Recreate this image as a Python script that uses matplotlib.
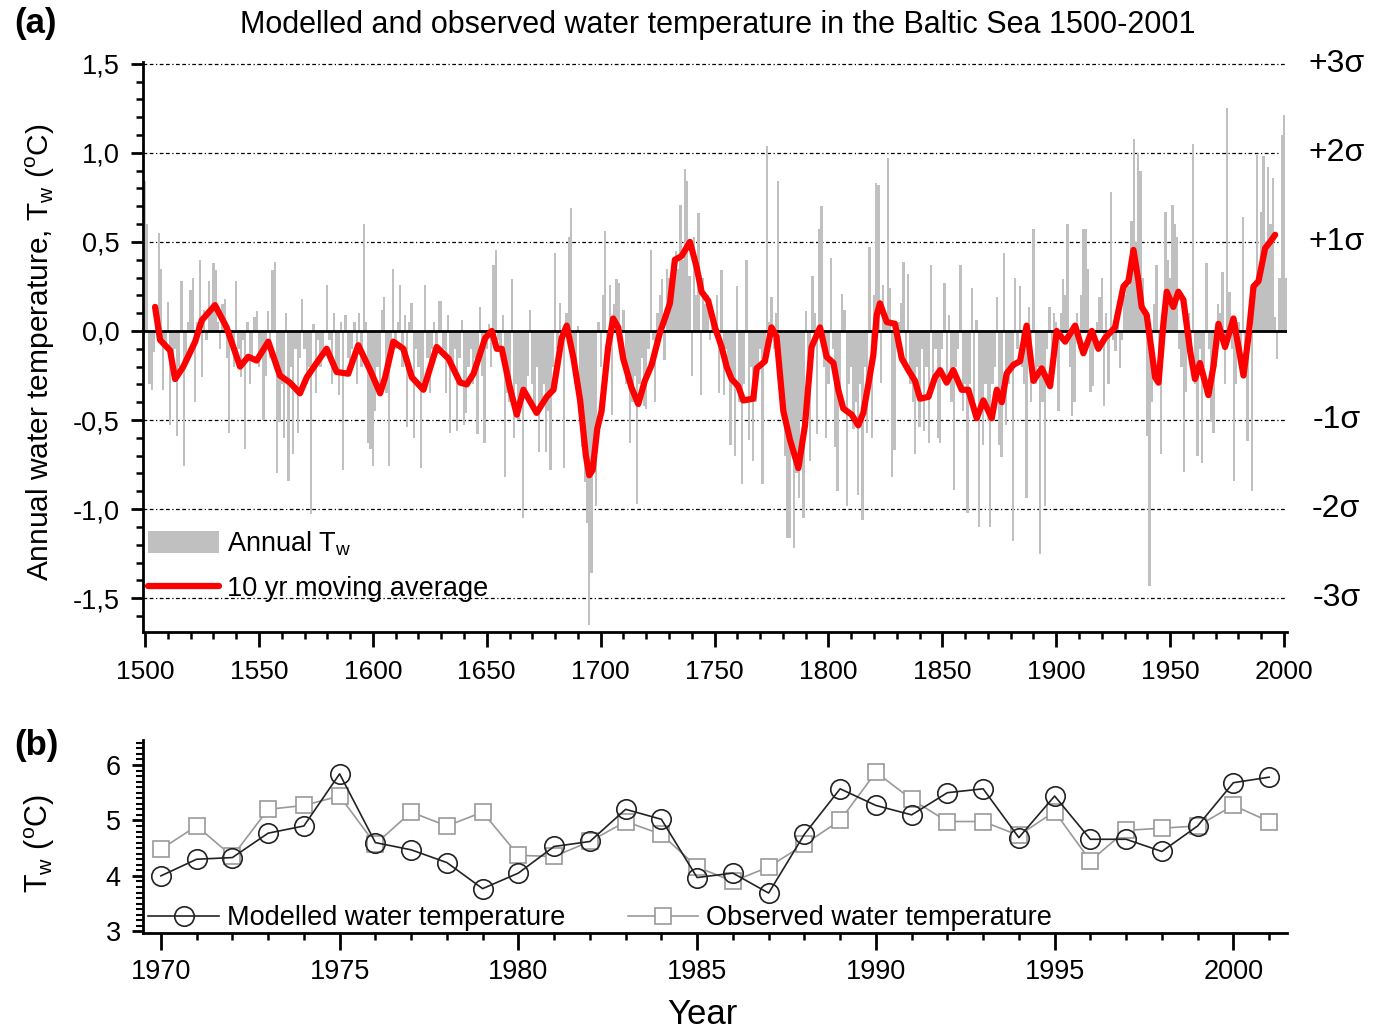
import numpy as np
import matplotlib
matplotlib.use("Agg")
from matplotlib import pyplot as plt
from matplotlib.patches import Patch
from matplotlib.lines import Line2D
from matplotlib.ticker import MultipleLocator, FuncFormatter

plt.rcParams['font.family'] = ['Liberation Sans', 'DejaVu Sans']
plt.rcParams['mathtext.fontset'] = 'custom'
plt.rcParams['mathtext.rm'] = 'Liberation Sans'

# annual water temperature anomaly 1500-2001, one row per decade
annual_tw = [
    0.84, 0.60, -0.30, -0.33, -0.12, 0.10, 0.55, 0.35, -0.33, -0.08,   # 1500
    0.16, -0.53, -0.25, -0.10, -0.59, -0.20, 0.28, -0.76, -0.15, 0.05,  # 1510
    0.23, 0.30, -0.40, 0.05, 0.40, -0.26, 0.12, -0.05, 0.28, 0.10,      # 1520
    0.38, 0.34, 0.05, -0.10, 0.15, 0.18, -0.15, -0.57, -0.05, -0.20,    # 1530
    0.28, -0.10, -0.26, -0.05, -0.66, 0.05, -0.30, -0.15, 0.08, 0.11,   # 1540
    -0.20, -0.10, -0.50, -0.25, 0.11, -0.15, 0.34, 0.39, -0.80, -0.51,  # 1550
    -0.30, -0.60, 0.10, -0.84, -0.20, -0.69, -0.10, -0.57, -0.15, 0.18, # 1560
    -0.10, -0.30, -0.20, -1.03, 0.04, -0.35, -0.05, -0.20, -0.10, 0.00, # 1570
    0.26, -0.05, -0.30, 0.10, -0.20, -0.36, 0.05, -0.78, 0.09, -0.15,   # 1580
    -0.25, -0.10, 0.05, -0.30, 0.10, -0.20, 0.60, 0.05, -0.63, -0.66,   # 1590
    -0.76, -0.45, -0.20, -0.30, 0.12, 0.19, -0.35, -0.76, -0.15, 0.35,  # 1600
    -0.10, 0.05, 0.26, -0.20, 0.09, -0.54, 0.05, 0.155, -0.60, -0.10,   # 1610
    -0.20, -0.77, -0.30, 0.26, -0.15, -0.35, -0.10, 0.05, -0.10, 0.17,  # 1620
    0.17, -0.10, -0.35, 0.09, -0.57, -0.20, -0.10, -0.56, -0.15, 0.06,  # 1630
    -0.53, -0.46, -0.20, -0.10, -0.30, -0.15, -0.58, 0.135, -0.25, -0.63,  # 1640
    -0.10, 0.04, -0.20, 0.37, 0.455, -0.05, -0.10, 0.09, -0.82, -0.35,  # 1650
    -0.40, 0.29, -0.60, -0.30, -0.50, -0.40, -1.05, -0.35, -0.25, 0.12, # 1660
    -0.30, -0.45, -0.20, -0.68, -0.40, -0.30, -0.68, -0.45, -0.78, -0.20,  # 1670
    0.435, -0.10, 0.155, -0.05, -0.77, 0.10, 0.53, 0.69, -0.10, -0.30,  # 1680
    0.03, -0.40, -0.65, -0.85, -1.08, -1.65, -1.36, -0.75, -0.98, 0.05, # 1690
    -0.20, 0.20, 0.56, -0.10, 0.26, -0.47, 0.15, 0.29, 0.27, -0.10,     # 1700
    0.12, -0.30, -0.20, -0.63, -0.40, -0.25, -0.97, -0.30, -0.15, -0.42,  # 1710
    -0.44, -0.10, 0.455, -0.05, -0.40, 0.10, 0.20, 0.29, -0.165, 0.35,  # 1720
    0.30, 0.20, 0.41, 0.45, 0.35, 0.71, 0.40, 0.91, 0.84, 0.31,         # 1730
    -0.25, 0.53, 0.20, 0.66, -0.36, 0.30, 0.15, 0.20, -0.05, 0.10,      # 1740
    0.06, 0.20, -0.35, 0.34, -0.36, -0.10, -0.20, -0.64, -0.30, -0.70,  # 1750
    0.25, -0.40, -0.86, -0.30, 0.40, -0.61, -0.20, -0.73, -0.40, -0.20, # 1760
    -0.10, -0.86, -0.10, 1.04, 0.05, 0.19, -0.10, 0.10, 0.84, -0.30,    # 1770
    -0.40, -0.70, -1.16, -1.16, -0.60, -1.22, -0.80, -0.94, -0.50, -1.05,  # 1780
    0.11, -0.30, -0.73, 0.31, 0.10, -0.58, 0.57, 0.70, -0.20, -0.60,    # 1790
    -0.30, 0.41, -0.10, -0.65, -0.90, -0.40, 0.21, 0.12, -0.98, -0.30,  # 1800
    -0.20, -0.55, -0.40, -0.92, -0.30, -1.06, -0.20, -0.57, 0.47, -0.60,  # 1810
    0.20, 0.83, 0.82, -0.29, 0.26, 0.10, 0.97, 0.24, -0.82, -0.67,      # 1820
    -0.10, 0.05, 0.155, 0.39, -0.20, 0.32, -0.30, -0.40, -0.69, -0.20,  # 1830
    -0.54, -0.10, -0.56, -0.20, -0.63, 0.37, -0.30, -0.10, -0.60, -0.63,  # 1840
    -0.10, 0.27, -0.30, 0.09, -0.40, -0.89, -0.20, -0.10, 0.37, -0.45,  # 1850
    -0.30, -1.02, -0.30, 0.24, -0.40, 0.06, -1.10, -0.40, -0.64, -0.30, # 1860
    -0.50, -1.10, -0.30, -0.20, 0.19, -0.64, -0.71, 0.435, -0.53, -0.30,  # 1870
    -0.20, -1.18, 0.30, -0.10, 0.25, -0.20, -0.30, -0.94, 0.135, -0.40, # 1880
    0.57, -0.30, -0.20, -1.25, -0.40, -0.98, -0.10, 0.135, -0.20, 0.10, # 1890
    0.05, -0.45, 0.10, 0.29, 0.20, 0.60, -0.20, -0.48, -0.40, 0.10,     # 1900
    -0.10, 0.20, 0.57, 0.57, 0.35, -0.34, -0.31, -0.10, 0.05, 0.19,     # 1910
    0.30, -0.42, 0.10, -0.30, 0.78, -0.05, -0.11, 0.10, -0.21, -0.05,   # 1920
    0.20, 0.30, 0.25, 0.62, 1.08, 0.50, 1.00, 0.90, 0.30, 0.10,         # 1930
    -0.59, -1.43, -0.40, 0.15, 0.37, -0.20, -0.69, 0.10, 0.67, 0.40,    # 1940
    0.30, 0.71, 0.60, 0.53, -0.10, -0.20, -0.79, -0.34, 0.10, -0.20,    # 1950
    1.05, -0.30, -0.70, -0.10, -0.74, -0.20, 0.38, -0.10, -0.51, -0.57, # 1960
    -0.20, 0.15, 0.10, 0.33, -0.30, 1.25, 0.22, -0.10, -0.84, -0.30,    # 1970
    0.05, -0.20, 0.64, -0.10, -0.62, 0.10, -0.90, 0.20, 0.99, 0.30,     # 1980
    0.67, 0.98, 0.50, 0.92, 0.60, 0.86, 0.08, -0.155, 0.30, 1.10,       # 1990
    1.21, 0.30,                                                         # 2000
]
years = np.arange(1500, 1500 + len(annual_tw))

# 10 yr moving average
ma_years = [1504.4, 1506.6, 1511.0, 1513.2, 1516.8, 1522.0, 1524.9, 1530.7, 1535.8, 1541.7,
            1545.3, 1549.0, 1554.1, 1559.2, 1563.6, 1568.0, 1571.0, 1575.3, 1579.7, 1584.1,
            1589.2, 1593.6, 1598.8, 1603.2, 1605.4, 1609.0, 1613.4, 1617.1, 1622.2, 1628.0,
            1633.2, 1638.3, 1641.2, 1644.2, 1649.3, 1652.2, 1654.4, 1656.6, 1660.2, 1663.2,
            1666.1, 1671.9, 1676.3, 1679.3, 1682.9, 1685.1, 1688.1, 1691.0, 1693.5, 1695.0,
            1696.5, 1698.5, 1700.4, 1703.3, 1705.5, 1707.7, 1709.9, 1713.6, 1716.5, 1719.4,
            1722.4, 1726.0, 1728.2, 1730.4, 1732.6, 1735.5, 1739.2, 1742.1, 1744.3, 1747.2,
            1750.2, 1753.1, 1755.3, 1757.5, 1760.4, 1762.6, 1767.0, 1768.5, 1772.1, 1775.0,
            1777.2, 1780.2, 1783.1, 1786.8, 1789.7, 1792.6, 1796.3, 1799.2, 1802.2, 1804.3,
            1806.5, 1810.2, 1813.1, 1815.3, 1817.5, 1819.7, 1821.2, 1822.6, 1825.6, 1829.2,
            1832.2, 1835.1, 1838.0, 1840.2, 1843.9, 1846.8, 1849.0, 1851.9, 1854.8, 1858.5,
            1861.4, 1865.1, 1868.0, 1871.7, 1873.9, 1876.1, 1878.2, 1881.2, 1884.1, 1887.0,
            1890.0, 1893.6, 1897.3, 1900.2, 1903.9, 1908.3, 1911.9, 1915.6, 1918.5, 1921.4,
            1925.8, 1929.5, 1931.7, 1933.9, 1936.1, 1937.5, 1939.7, 1941.9, 1943.4, 1944.9,
            1947.1, 1948.5, 1951.4, 1953.6, 1955.8, 1958.8, 1960.9, 1963.1, 1966.8, 1969.0,
            1971.2, 1974.1, 1977.8, 1980.0, 1982.2, 1984.4, 1986.6, 1988.8, 1991.7, 1993.9,
            1996.1]
ma_values = [0.135, -0.05, -0.11, -0.27, -0.20, -0.06, 0.06, 0.145, 0.02, -0.20,
             -0.145, -0.166, -0.06, -0.25, -0.29, -0.35, -0.26, -0.18, -0.10, -0.23,
             -0.24, -0.08, -0.22, -0.35, -0.26, -0.06, -0.10, -0.26, -0.33, -0.09,
             -0.155, -0.29, -0.30, -0.24, -0.04, 0.00, -0.10, -0.10, -0.32, -0.47,
             -0.33, -0.46, -0.37, -0.33, -0.04, 0.03, -0.155, -0.39, -0.70, -0.81,
             -0.78, -0.55, -0.45, -0.09, 0.07, 0.02, -0.155, -0.32, -0.41, -0.28,
             -0.19, -0.01, 0.07, 0.155, 0.40, 0.42, 0.50, 0.36, 0.22, 0.17,
             0.02, -0.09, -0.20, -0.27, -0.31, -0.39, -0.38, -0.21, -0.17, 0.02,
             -0.03, -0.45, -0.61, -0.77, -0.53, -0.09, 0.02, -0.145, -0.18, -0.33,
             -0.435, -0.47, -0.53, -0.46, -0.30, -0.135, 0.09, 0.155, 0.05, 0.04,
             -0.155, -0.22, -0.28, -0.38, -0.37, -0.26, -0.22, -0.29, -0.22, -0.33,
             -0.33, -0.49, -0.39, -0.49, -0.33, -0.40, -0.24, -0.19, -0.17, 0.03,
             -0.28, -0.21, -0.31, 0.00, -0.06, 0.03, -0.125, 0.00, -0.10, -0.04,
             0.02, 0.25, 0.28, 0.455, 0.28, 0.135, 0.09, -0.115, -0.26, -0.29,
             0.05, 0.22, 0.135, 0.22, 0.175, -0.115, -0.27, -0.18, -0.36, -0.20,
             0.04, -0.09, 0.07, -0.09, -0.25, -0.03, 0.25, 0.28, 0.465, 0.50,
             0.54]

sigma_levels = [1.5, 1.0, 0.5, -0.5, -1.0, -1.5]
sigma_labels = ['+3σ', '+2σ', '+1σ', '-1σ', '-2σ', '-3σ']

# 1970-2001 comparison
cmp_years = np.arange(1970, 2002)
modelled = [4.00, 4.30, 4.33, 4.77, 4.90, 5.84, 4.60, 4.47, 4.24, 3.77,
            4.05, 4.53, 4.62, 5.20, 5.02, 3.97, 4.05, 3.69, 4.75, 5.57,
            5.27, 5.10, 5.50, 5.57, 4.69, 5.44, 4.66, 4.66, 4.44, 4.90,
            5.68, 5.78]
observed = [4.48, 4.90, 4.35, 5.20, 5.27, 5.44, 4.57, 5.15, 4.90, 5.15,
            4.37, 4.35, 4.62, 4.98, 4.75, 4.16, 3.90, 4.16, 4.57, 5.00,
            5.87, 5.38, 4.98, 4.98, 4.73, 5.16, 4.27, 4.82, 4.86, 4.90,
            5.27, 4.98]

W, H = 1382, 1031
fig = plt.figure(figsize=(W / 100, H / 100), dpi=100)

comma = FuncFormatter(lambda v, p: f"{v:.1f}".replace('.', ','))


def style_axes(ax):
    for s in ['top', 'right']:
        ax.spines[s].set_visible(False)
    for s in ['left', 'bottom']:
        ax.spines[s].set_linewidth(2.0)
    ax.tick_params(which='major', direction='out', length=9, width=2.0, labelsize=19)
    ax.tick_params(which='minor', direction='out', length=5, width=1.8)


# ---- (a) ----
ax = fig.add_axes([143 / W, 1 - 632 / H, 1144 / W, 570 / H])
for lvl in sigma_levels:
    ax.axhline(lvl, color='black', lw=0.9, ls=(0, (3, 2, 3, 2, 1, 2)), zorder=1)
ax.bar(years, annual_tw, width=1.0, color='#c0c0c0', linewidth=0, zorder=2)
ax.axhline(0, color='black', lw=2.0, zorder=3)
ax.plot(ma_years, ma_values, color='#ff0000', lw=4.5, solid_capstyle='round',
        solid_joinstyle='round', zorder=4)
ax.set_xlim(1499.1, 2001.3)
ax.set_ylim(-1.69, 1.51)
ax.xaxis.set_major_locator(MultipleLocator(50))
ax.xaxis.set_minor_locator(MultipleLocator(10))
ax.yaxis.set_major_locator(MultipleLocator(0.5))
ax.yaxis.set_minor_locator(MultipleLocator(0.1))
ax.yaxis.set_major_formatter(comma)
style_axes(ax)
ax.tick_params(axis='x', which='major', length=11, pad=9, labelsize=19)
ax.tick_params(axis='y', which='major', pad=8, labelsize=19.5)

for lvl, lab in zip(sigma_levels, sigma_labels):
    ax.text(1.043, lvl, lab, transform=ax.get_yaxis_transform(), ha='center',
            va='center', fontsize=23, clip_on=False)

handles = [Patch(facecolor='#c0c0c0', edgecolor='none'),
           Line2D([], [], color='#ff0000', lw=4.5, solid_capstyle='round')]
ax.legend(handles, ['Annual T$_\\mathregular{w}$', '10 yr moving average'],
          loc='lower left', bbox_to_anchor=(0.0, 0.043), frameon=False,
          fontsize=19.5, handlelength=2.6, handleheight=0.85, handletextpad=0.3,
          labelspacing=0.66, borderaxespad=0.0, borderpad=0.2)

fig.text(718 / W, 1 - 25 / H, 'Modelled and observed water temperature in the Baltic Sea 1500-2001',
         ha='center', va='center', fontsize=22)
fig.text(14 / W, 1 - 24 / H, '(a)', ha='left', va='center', fontsize=25, fontweight='bold')
fig.text(40 / W, 1 - 352 / H, 'Annual water temperature, T$_\\mathregular{w}$ ($^\\mathregular{o}$C)',
         rotation=90, ha='center', va='center', fontsize=21.5)

# ---- (b) ----
bx = fig.add_axes([143 / W, 1 - 933 / H, 1144 / W, 193 / H])
bx.plot(cmp_years, observed, color='#999999', lw=1.2, marker='s', markersize=12,
        markerfacecolor='white', markeredgecolor='#999999', markeredgewidth=1.2,
        label='Observed water temperature', zorder=2)
bx.plot(cmp_years, modelled, color='#222222', lw=1.2, marker='o', markersize=14,
        markerfacecolor='white', markeredgecolor='#222222', markeredgewidth=1.2,
        label='Modelled water temperature', zorder=3, fillstyle='none')
bx.set_xlim(1969.5, 2001.5)
bx.set_ylim(2.97, 6.45)
bx.xaxis.set_major_locator(MultipleLocator(5))
bx.xaxis.set_minor_locator(MultipleLocator(1))
bx.yaxis.set_major_locator(MultipleLocator(1))
bx.yaxis.set_minor_locator(MultipleLocator(0.1))
style_axes(bx)
bx.tick_params(axis='x', which='major', length=12, pad=7, labelsize=19.5)
bx.tick_params(axis='y', which='major', length=8, pad=8, labelsize=19.5)
bx.tick_params(axis='y', which='minor', length=5, width=1.5)
h, l = bx.get_legend_handles_labels()
bx.legend(h[::-1], l[::-1], loc='lower left', bbox_to_anchor=(0.0, -0.02), ncol=2,
          frameon=False, fontsize=19.5, handlelength=2.6, handletextpad=0.3,
          columnspacing=2.3, borderaxespad=0.0, borderpad=0.2)

fig.text(14 / W, 1 - 745 / H, '(b)', ha='left', va='center', fontsize=25, fontweight='bold')
fig.text(40 / W, 1 - 843 / H, 'T$_\\mathregular{w}$ ($^\\mathregular{o}$C)',
         rotation=90, ha='center', va='center', fontsize=22)
fig.text(702 / W, 1 - 1015 / H, 'Year', ha='center', va='center', fontsize=25)

fig.savefig('out.png', dpi=100)
